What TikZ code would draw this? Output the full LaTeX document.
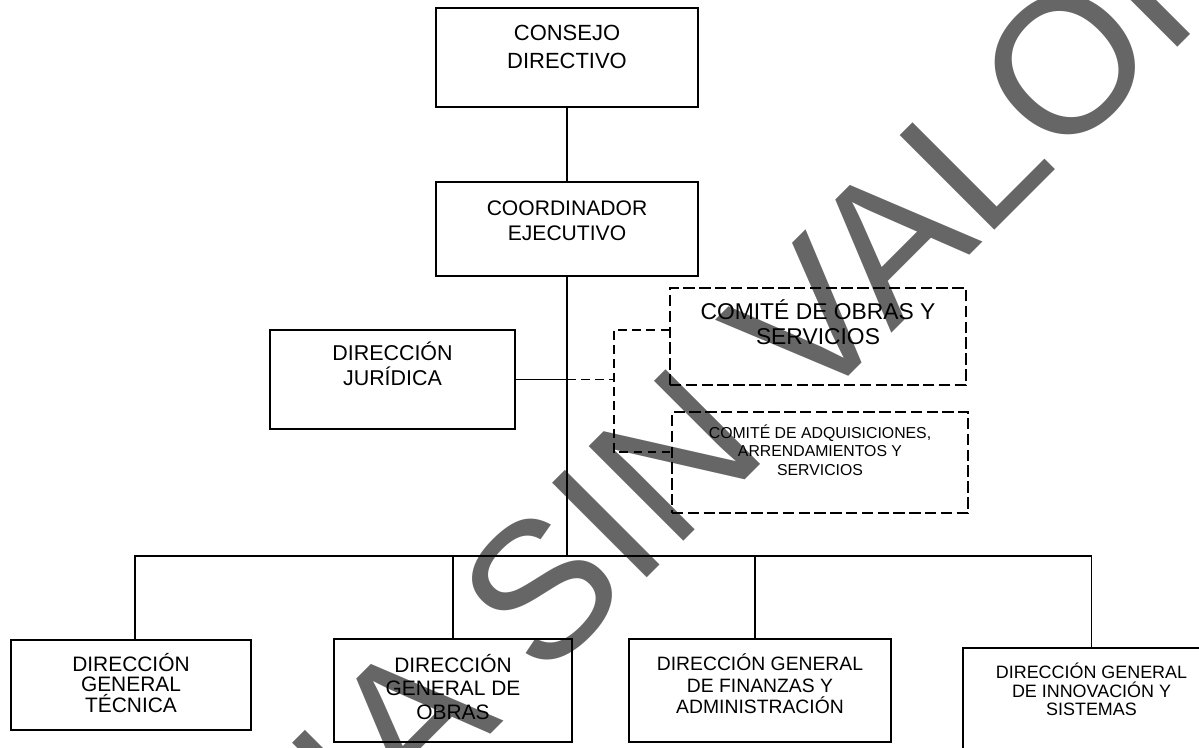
\documentclass[tikz,border=0pt]{standalone}
\usepackage{fontspec}
\setmainfont{Liberation Sans}
\usepackage{tikz}
\pgfdeclarelayer{wm}
\pgfdeclarelayer{bg}
\pgfsetlayers{wm,bg,main}
\definecolor{marca}{HTML}{666666}

\begin{document}
\begin{tikzpicture}[
        box/.style={draw, line width=0.8pt, inner sep=0pt},
        dbox/.style={box, dash pattern=on 6.5pt off 2.5pt},
        lab/.style={align=center, inner sep=0pt},
        conn/.style={line width=0.7pt},
        dconn/.style={line width=0.8pt, dash pattern=on 5pt off 3pt}
]
        \useasboundingbox (0cm, 0cm) rectangle (23.98cm, -14.96cm);
        \node (v0) [box, minimum width=5.24cm, minimum height=1.98cm, label={[lab, font=\fontsize{12.5}{15.9}\selectfont, yshift=0.21cm]center:{CONSEJO\\DIRECTIVO}}] at (11.34cm, -1.15cm) {};
        \node (v1) [box, minimum width=5.24cm, minimum height=1.88cm, label={[lab, font=\fontsize{12}{14.2}\selectfont, yshift=0.17cm]center:{COORDINADOR\\EJECUTIVO}}] at (11.34cm, -4.58cm) {};
        \node (v2) [box, minimum width=4.90cm, minimum height=1.98cm, label={[lab, font=\fontsize{12.2}{14.2}\selectfont, yshift=0.32cm]center:{DIRECCIÓN\\JURÍDICA}}] at (7.85cm, -7.59cm) {};
        \node (v3) [dbox, minimum width=5.92cm, minimum height=1.94cm, label={[lab, font=\fontsize{13}{14.2}\selectfont, yshift=0.28cm]center:{COMITÉ DE OBRAS Y\\SERVICIOS}}] at (16.36cm, -6.73cm) {};
        \node (v4) [dbox, minimum width=5.92cm, minimum height=2.02cm, label={[lab, font=\fontsize{9}{10.6}\selectfont, yshift=0.25cm]center:{COMITÉ DE ADQUISICIONES,\\ARRENDAMIENTOS Y\\SERVICIOS}}] at (16.40cm, -9.25cm) {};
        \node (v5) [box, minimum width=4.80cm, minimum height=1.80cm, label={[lab, font=\fontsize{11.9}{11.4}\selectfont, yshift=0.04cm]center:{DIRECCIÓN\\GENERAL\\TÉCNICA}}] at (2.62cm, -13.70cm) {};
        \node (v6) [box, minimum width=4.76cm, minimum height=2.06cm, label={[lab, font=\fontsize{11.9}{13.6}\selectfont, yshift=0.07cm]center:{DIRECCIÓN\\GENERAL DE\\OBRAS}}] at (9.06cm, -13.81cm) {};
        \node (v7) [box, minimum width=5.24cm, minimum height=2.06cm, label={[lab, font=\fontsize{11}{12.2}\selectfont, yshift=0.13cm]center:{DIRECCIÓN GENERAL\\DE FINANZAS Y\\ADMINISTRACIÓN}}] at (15.20cm, -13.81cm) {};
        \node (v8) [box, minimum width=5.14cm, minimum height=2.24cm, label={[lab, font=\fontsize{10.2}{10.6}\selectfont, yshift=0.29cm]center:{DIRECCIÓN GENERAL\\DE INNOVACIÓN Y\\SISTEMAS}}] at (21.83cm, -14.08cm) {};
        \coordinate (t0) at (11.34cm, -11.12cm);
        \coordinate (t1) at (11.34cm, -7.59cm);
        \coordinate (t2) at (12.28cm, -7.59cm);
        \coordinate (t3) at (12.28cm, -6.60cm);
        \coordinate (t4) at (12.28cm, -9.04cm);
        \begin{pgfonlayer}{wm}
                \clip (0cm, 0cm) rectangle (23.98cm, -14.96cm);
                \node (wm) [anchor=base west, rotate=45, inner sep=0pt, text=marca, font=\fontsize{110.7}{112}\selectfont] at (1.52cm, -22.98cm) {COPIA SIN VALOR};
        \end{pgfonlayer}
        \begin{pgfonlayer}{bg}
                \draw [conn] (v0) -- (v1);
                \draw [conn] (v1) -- (t0);
                \draw [conn] (v2) -- (t1);
                \draw [conn] ([xshift=0.08cm]v5.north) |- (t0) -| (v8);
                \draw [conn] (v6) -- (v6 |- t0);
                \draw [conn] ([xshift=-0.1cm]v7.north) -- ([xshift=-0.1cm]v7.north |- t0);
                \draw [dconn] (t1) -- (t2);
                \draw [dconn] (t3 -| v3.west) -- (t3) -- (t4) -- (t4 -| v4.west);
        \end{pgfonlayer}
\end{tikzpicture}
\end{document}
